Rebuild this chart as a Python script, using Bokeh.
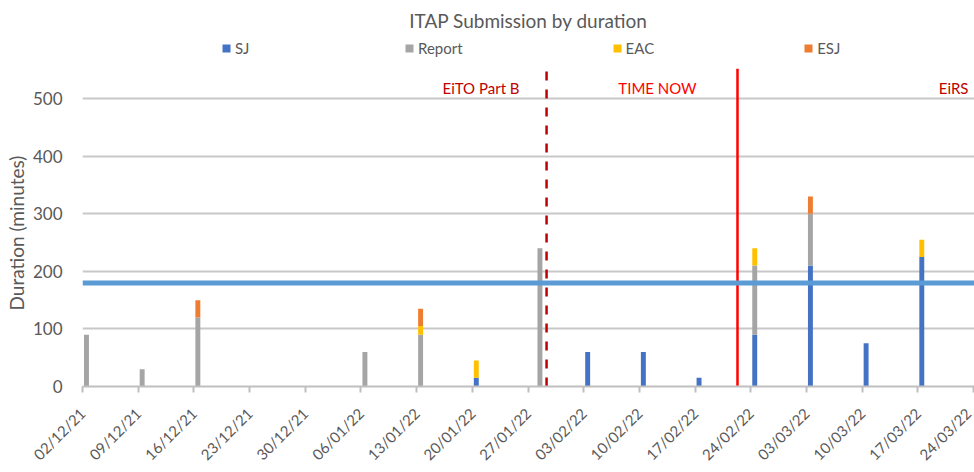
import math
import pandas as pd
from bokeh.plotting import figure
from bokeh.models import (Range1d, FixedTicker, DatetimeTickFormatter, Span, Label, Title,
                          Legend, LegendItem, ColumnDataSource)
from bokeh.embed import file_html
from bokeh.resources import INLINE

# ---------------- data ----------------
title_text = "ITAP Submission by duration"
y_title = "Duration (minutes)"
series_names = ["SJ", "Report", "EAC", "ESJ"]
dates = ["2021-12-02", "2021-12-09", "2021-12-16", "2022-01-06", "2022-01-13",
         "2022-01-20", "2022-01-28", "2022-02-03", "2022-02-10", "2022-02-17",
         "2022-02-24", "2022-03-03", "2022-03-10", "2022-03-17"]
sj     = [0, 0, 0, 0, 0, 15, 0, 60, 60, 15, 90, 210, 75, 225]
report = [90, 30, 120, 60, 90, 0, 240, 0, 0, 0, 120, 90, 0, 0]
eac    = [0, 0, 0, 0, 15, 30, 0, 0, 0, 0, 30, 0, 0, 30]
esj    = [0, 0, 30, 0, 30, 0, 0, 0, 0, 0, 0, 30, 0, 0]
tick_dates = ["2021-12-02", "2021-12-09", "2021-12-16", "2021-12-23", "2021-12-30",
              "2022-01-06", "2022-01-13", "2022-01-20", "2022-01-27", "2022-02-03",
              "2022-02-10", "2022-02-17", "2022-02-24", "2022-03-03", "2022-03-10",
              "2022-03-17", "2022-03-24"]
y_ticks = [0, 100, 200, 300, 400, 500]
threshold = 180
eito_date = "2022-01-29 08:00"
now_date = "2022-02-22 08:00"
marker_labels = ["EiTO Part B", "TIME NOW", "EiRS"]

# ---------------- style ----------------
FONT = "Lato"
GREY = "#595959"
colors = ["#4472C4", "#A5A5A5", "#FFC000", "#ED7D31"]
x_end = "2022-03-24 03:00"
y_top = 608          # frame extended upward to host the legend
dash_top = 561
solid_top = 552

def ms(d):
    return pd.Timestamp(d).timestamp() * 1000.0

x = pd.to_datetime(dates) + pd.Timedelta(hours=12)
src = ColumnDataSource(dict(x=x, SJ=sj, Report=report, EAC=eac, ESJ=esj))

p = figure(width=974, height=472, x_axis_type="datetime",
           output_backend="svg", toolbar_location=None,
           x_range=Range1d(ms(tick_dates[0]), ms(x_end)),
           y_range=Range1d(0, y_top),
           min_border_left=82, min_border_right=0,
           min_border_bottom=86, min_border_top=36)
p.outline_line_color = None
p.background_fill_color = "white"
p.border_fill_color = "white"

renderers = p.vbar_stack(series_names, x="x", width=0.62 * 86400000, source=src,
                         color=colors, line_color=None)

legend = Legend(items=[LegendItem(label=n, renderers=[r]) for n, r in zip(series_names, renderers)],
                orientation="horizontal", location=(139, 329), spacing=149,
                glyph_width=10, glyph_height=10, label_standoff=4,
                padding=2, margin=0, border_line_color=None, background_fill_alpha=0,
                label_text_font=FONT, label_text_font_size="15px", label_text_color=GREY)
p.add_layout(legend)

p.title.text = title_text
p.title.align = "center"
p.title.text_font = FONT
p.title.text_font_size = "19px"
p.title.text_font_style = "normal"
p.title.text_color = GREY

# threshold line
p.add_layout(Span(location=threshold, dimension="width", line_color="#5B9BD5", line_width=5))
# marker lines
p.segment(x0=[ms(eito_date)], y0=[0], x1=[ms(eito_date)], y1=[dash_top],
          line_color="#C00000", line_width=2.5, line_dash="9 9")
p.segment(x0=[ms(now_date)], y0=[0], x1=[ms(now_date)], y1=[solid_top],
          line_color="#FF0000", line_width=2.5)

p.add_layout(Label(x=ms(eito_date), y=518, x_offset=-27, text=marker_labels[0],
                   text_align="right", text_baseline="middle", text_color="#C00000",
                   text_font=FONT, text_font_size="15px"))
p.add_layout(Label(x=ms(now_date), y=518, x_offset=-80, text=marker_labels[1],
                   text_align="center", text_baseline="middle", text_color="#FF0000",
                   text_font=FONT, text_font_size="15px"))
p.add_layout(Label(x=ms(x_end), y=518, x_offset=-6, text=marker_labels[2],
                   text_align="right", text_baseline="middle", text_color="#C00000",
                   text_font=FONT, text_font_size="15px"))

# axes
p.xaxis.ticker = FixedTicker(ticks=[ms(d) for d in tick_dates])
fmt = "%d/%m/%y"
p.xaxis.formatter = DatetimeTickFormatter(days=fmt, months=fmt, years=fmt, hours=fmt,
                                          hourmin=fmt, minutes=fmt, minsec=fmt,
                                          seconds=fmt, milliseconds=fmt, microseconds=fmt)
p.xaxis.major_label_orientation = math.pi / 4
p.xaxis.major_label_text_font = FONT
p.xaxis.major_label_text_font_size = "15px"
p.xaxis.major_label_text_color = GREY
p.xaxis.major_label_standoff = 18
p.xaxis.axis_line_color = "#BFBFBF"
p.xaxis.axis_line_width = 2
p.xaxis.major_tick_line_color = "#BFBFBF"
p.xaxis.major_tick_line_width = 2
p.xaxis.major_tick_out = 6
p.xaxis.major_tick_in = 0
p.xaxis.minor_tick_line_color = None

p.yaxis.ticker = FixedTicker(ticks=y_ticks)
p.yaxis.axis_line_color = None
p.yaxis.major_tick_line_color = None
p.yaxis.minor_tick_line_color = None
p.yaxis.major_label_text_font = FONT
p.yaxis.major_label_text_font_size = "17px"
p.yaxis.major_label_text_color = GREY
p.yaxis.major_label_standoff = 14

p.add_layout(Title(text=y_title, align="left", offset=76, text_font=FONT,
                   text_font_size="19px", text_font_style="normal", text_color=GREY,
                   standoff=4), "left")

p.xgrid.grid_line_color = None
p.ygrid.grid_line_color = "#C8C8C8"
p.ygrid.grid_line_width = 2

open("out.html", "w").write(file_html(p, INLINE))
